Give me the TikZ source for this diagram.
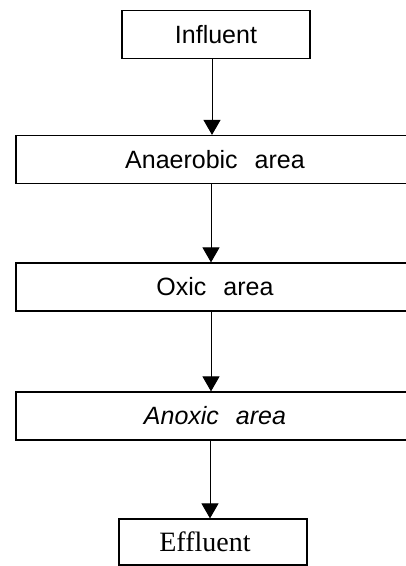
\documentclass[tikz,border=0pt]{standalone}
\usepackage{fontspec}
\setmainfont{Liberation Sans}
\newfontfamily\effserif[Ligatures=CommonOff]{Liberation Serif}
\usetikzlibrary{arrows.meta}
\begin{document}
\begin{tikzpicture}[x=1pt,y=-1pt,
  stagebox/.style={draw,line width=1.2pt,inner sep=0pt,minimum height=48pt,
    font=\fontsize{25}{30}\selectfont},
  flow/.style={line width=1pt,-{Triangle[width=17pt,length=15pt]}}]
\clip (0,0) rectangle (406,566);
\fill[white] (0,0) rectangle (406,566);
% process stages, top to bottom
\node[stagebox,minimum width=188pt] (infl) at (216,34.5) {Influent};
\node[stagebox,minimum width=398pt] (anaer) at (215,159.5) {Anaerobic\hspace{17pt}area};
\node[stagebox,minimum width=398pt] (oxic) at (215,287) {Oxic\hspace{17pt}area};
\node[stagebox,minimum width=398pt] (anox) at (215,416) {\itshape Anoxic\hspace{17pt}area};
\node[stagebox,minimum width=188pt,minimum height=46pt,
  font=\effserif\fontsize{28}{32}\selectfont] (effl) at (213,542) {\hspace*{-16pt}Effluent};
% flow between stages
\draw[flow] (infl.south -| 212,0) -- (anaer.north -| 212,0);
\draw[flow] (anaer.south -| 211,0) -- (oxic.north -| 211,0);
\draw[flow] (oxic.south -| 211,0) -- (anox.north -| 211,0);
\draw[flow] (anox.south -| 210,0) -- (effl.north -| 210,0);
\end{tikzpicture}
\end{document}
